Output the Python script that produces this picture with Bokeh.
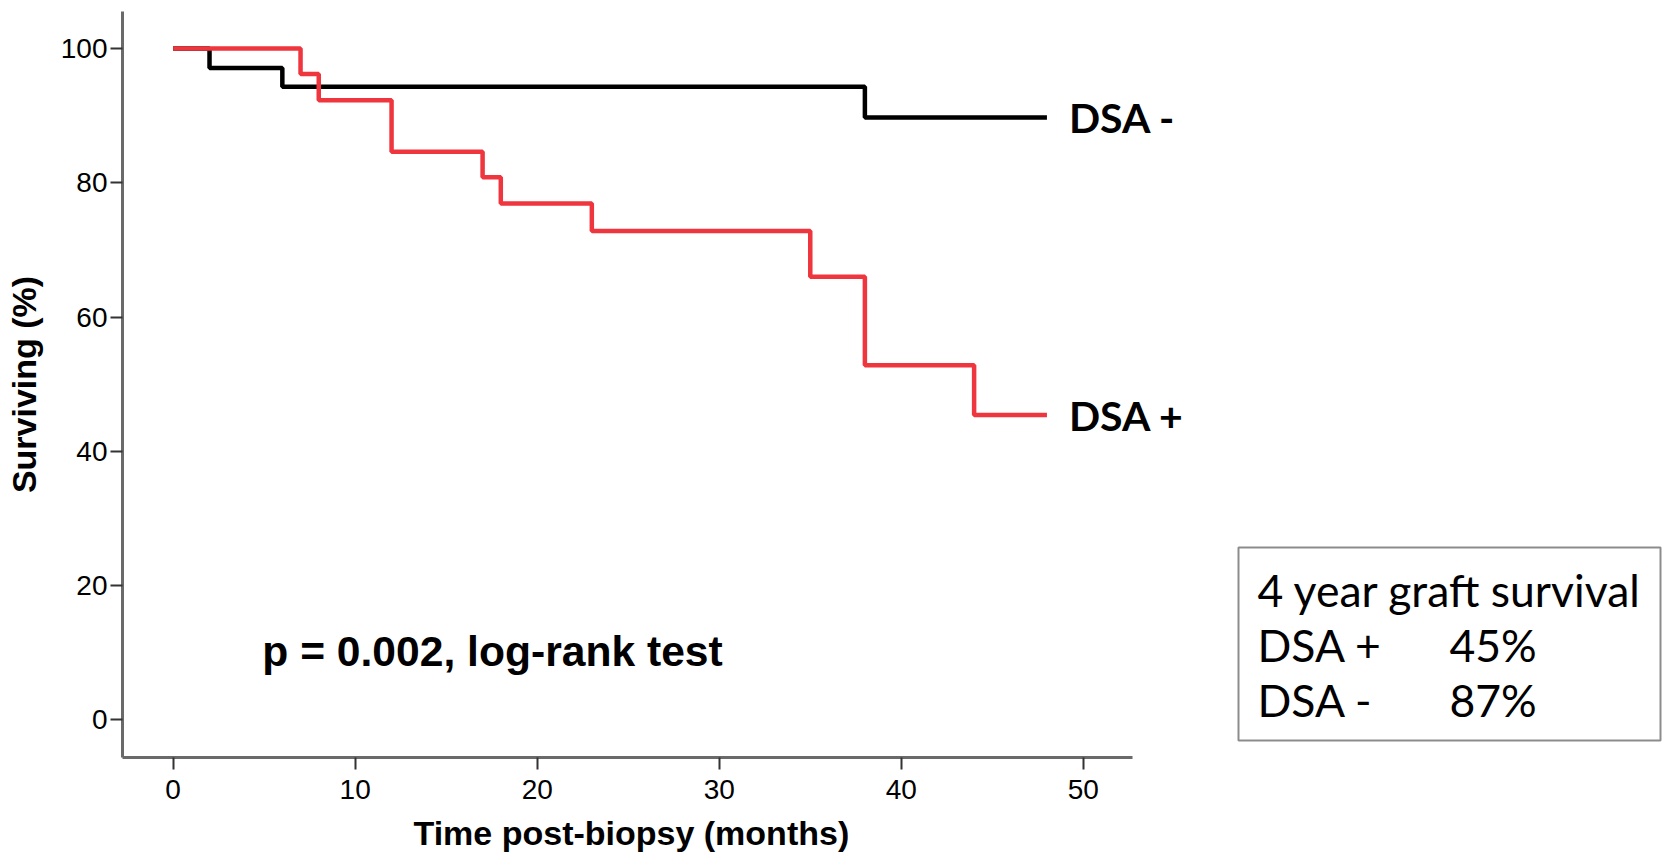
from bokeh.plotting import figure
from bokeh.models import Range1d, Label, FixedTicker, Title
from bokeh.core.properties import value
from bokeh.embed import file_html
from bokeh.resources import INLINE

# ---- data ----
time_neg = [0, 2, 6, 38, 48]
surv_neg = [100, 97.1, 94.3, 89.7, 89.7]
time_pos = [0, 7, 8, 12, 17, 18, 23, 35, 38, 44, 48]
surv_pos = [100, 96.2, 92.3, 84.6, 80.8, 76.9, 72.8, 66.0, 52.8, 45.4, 45.4]
group_names = ["DSA -", "DSA +"]
x_ticks = [0, 10, 20, 30, 40, 50]
y_ticks = [0, 20, 40, 60, 80, 100]
table_title = "4 year graft survival"
table_groups = ["DSA +", "DSA -"]
table_values = ["45%", "87%"]
p_text = "p = 0.002, log-rank test"
x_title = "Time post-biopsy (months)"
y_title = "Surviving (%)"

ARIAL = "Liberation Sans"
CAL = "Lato"

# layout (pixels)
LEFT, TOP = 122, 11
FRAME_W, FRAME_H = 1540, 746
X0, X1_AXIS = -2.78, 52.7
PX_PER_X = 1010 / (X1_AXIS - X0)
Y0, Y1 = -5.6, 105.5
X1 = X0 + FRAME_W / PX_PER_X


def px2x(px):
    return X0 + (px - LEFT) / PX_PER_X


def px2y(py):
    return Y1 - (py - TOP) * (Y1 - Y0) / FRAME_H


p = figure(
    frame_width=FRAME_W, frame_height=FRAME_H,
    min_border_left=LEFT, min_border_right=0, min_border_top=TOP, min_border_bottom=104,
    x_range=Range1d(X0, X1), y_range=Range1d(Y0, Y1),
    output_backend="svg", toolbar_location=None,
)
p.grid.visible = False
p.outline_line_color = None
p.background_fill_color = "white"

for ax in (p.xaxis[0], p.yaxis[0]):
    ax.axis_line_color = "#6a6a6a"
    ax.axis_line_width = 3
    ax.major_tick_line_color = "#333333"
    ax.major_tick_line_width = 2
    ax.major_tick_in = 0
    ax.major_tick_out = 12
    ax.minor_tick_line_color = None
    ax.major_label_text_font = ARIAL
    ax.major_label_text_font_size = "28px"
    ax.major_label_text_color = "black"
    ax.axis_label_text_font = ARIAL
    ax.axis_label_text_font_size = "34px"
    ax.axis_label_text_font_style = "bold"
    ax.axis_label_text_color = "black"

p.xaxis.bounds = (X0, X1_AXIS)
p.xaxis.ticker = FixedTicker(ticks=x_ticks)
p.yaxis.ticker = FixedTicker(ticks=y_ticks)
p.xaxis.major_label_standoff = 10
p.yaxis.major_label_standoff = 3
p.yaxis.axis_label = y_title
p.yaxis.axis_label_standoff = 15

# x-axis title, centred under the drawn axis (not the wider frame)
p.add_layout(Title(text=x_title, align="left", offset=291, standoff=21,
                   text_font=ARIAL, text_font_size="34px", text_font_style="bold",
                   text_color="black"), "below")

p.step(time_neg, surv_neg, mode="after", line_color="black", line_width=4.5)
p.step(time_pos, surv_pos, mode="after", line_color="#ef353d", line_width=4.5)

for t, s, name in ((time_neg, surv_neg, group_names[0]), (time_pos, surv_pos, group_names[1])):
    p.add_layout(Label(x=t[-1], y=s[-1], x_offset=22, text=name,
                       text_font=CAL, text_font_style="bold", text_font_size="41px",
                       text_baseline="middle", text_align="left", text_color="black"))

p.add_layout(Label(x=px2x(492), y=px2y(650), text=p_text, text_font=ARIAL, text_font_style="bold",
                   text_font_size="42.6px", text_align="center", text_baseline="middle",
                   text_color="black"))

# ---- side box ----
p.quad(left=[px2x(1238)], right=[px2x(1660)], top=[px2y(547)], bottom=[px2y(740)],
       fill_color=None, line_color="#8c8c8c", line_width=2)
p.text(x=[px2x(1257)], y=[px2y(589)], text=[table_title], text_font=value(CAL),
       text_font_size="44.5px", text_baseline="middle", text_color="black")
p.text(x=[px2x(1257)] * 2, y=[px2y(644), px2y(699)], text=table_groups, text_font=value(CAL),
       text_font_size="44.5px", text_baseline="middle", text_color="black")
p.text(x=[px2x(1449)] * 2, y=[px2y(644), px2y(699)], text=table_values, text_font=value(CAL),
       text_font_size="44.5px", text_baseline="middle", text_color="black")

open("out.html", "w").write(file_html(p, INLINE))
